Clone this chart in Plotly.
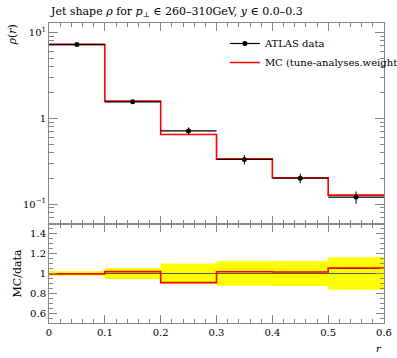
import plotly.graph_objects as go

# ---- data ----
bin_edges = [0.0, 0.1, 0.2, 0.3, 0.4, 0.5, 0.6]
data_x = [0.05, 0.15, 0.25, 0.35, 0.45, 0.55]
data_y = [7.3, 1.56, 0.713, 0.331, 0.200, 0.1205]
data_relerr = [0.022, 0.055, 0.10, 0.123, 0.127, 0.163]
mc_y = [7.26, 1.59, 0.647, 0.337, 0.203, 0.127]

x_ticks = [0, 0.1, 0.2, 0.3, 0.4, 0.5, 0.6]
x_ticklabels = ["0", "0.1", "0.2", "0.3", "0.4", "0.5", "0.6"]
ratio_ticks = [0.6, 0.8, 1.0, 1.2, 1.4]
ratio_ticklabels = ["0.6", "0.8", "1", "1.2", "1.4"]
logy_ticks = [0.1, 1, 10]
logy_ticklabels = ["10<sup>−1</sup>", "1", "10<sup>1</sup>"]

FONT = "DejaVu Serif, Liberation Serif, serif"
AX = "#888888"

def step(vals):
    return list(vals) + [vals[-1]]

data_err = [v * e for v, e in zip(data_y, data_relerr)]
ratio = [m / d for m, d in zip(mc_y, data_y)]
band_up = [1 + e for e in data_relerr]
band_lo = [1 - e for e in data_relerr]

fig = go.Figure()

fig.add_trace(go.Scatter(x=bin_edges, y=step(mc_y), mode="lines", line_shape="hv",
                         line=dict(color="red", width=1.6), showlegend=False,
                         xaxis="x", yaxis="y"))
fig.add_trace(go.Scatter(x=data_x, y=data_y, mode="markers",
                         marker=dict(color="black", size=5),
                         error_y=dict(type="data", array=data_err, color="black", thickness=1, width=0),
                         error_x=dict(type="constant", value=0.05, color="black", thickness=1.2, width=0),
                         showlegend=False, xaxis="x", yaxis="y"))
fig.add_trace(go.Scatter(x=[None], y=[None], mode="lines+markers", name="ATLAS data",
                         line=dict(color="black", width=1.2), marker=dict(color="black", size=5),
                         xaxis="x", yaxis="y"))
fig.add_trace(go.Scatter(x=[None], y=[None], mode="lines", name="MC (tune-analyses.weight",
                         line=dict(color="red", width=1.5), xaxis="x", yaxis="y"))

fig.add_trace(go.Scatter(x=bin_edges, y=step(band_lo), mode="lines", line_shape="hv",
                         line=dict(width=0, color="yellow"), showlegend=False,
                         xaxis="x2", yaxis="y2"))
fig.add_trace(go.Scatter(x=bin_edges, y=step(band_up), mode="lines", line_shape="hv",
                         line=dict(width=0, color="yellow"), fill="tonexty",
                         fillcolor="yellow", showlegend=False, xaxis="x2", yaxis="y2"))
fig.add_trace(go.Scatter(x=[bin_edges[0], bin_edges[-1]], y=[1, 1], mode="lines",
                         line=dict(color="#555555", width=1), showlegend=False,
                         xaxis="x2", yaxis="y2"))
fig.add_trace(go.Scatter(x=bin_edges, y=step(ratio), mode="lines", line_shape="hv",
                         line=dict(color="red", width=1.6), showlegend=False,
                         xaxis="x2", yaxis="y2"))

minor_log = [m * 10 ** e for e in range(-2, 2) for m in range(2, 10)]

common_x = dict(range=[0, 0.6], showgrid=False, zeroline=False, showline=True,
                linecolor=AX, linewidth=1, mirror="allticks", ticks="inside",
                ticklen=8, tickcolor=AX, tickvals=x_ticks, automargin=False,
                minor=dict(ticks="inside", ticklen=4, tickcolor=AX, dtick=0.02, tick0=0))

fig.update_layout(
    width=397, height=358,
    margin=dict(l=49, r=13, t=23, b=35, autoexpand=False),
    paper_bgcolor="white", plot_bgcolor="white",
    font=dict(family=FONT, size=10, color="black"),
    xaxis=dict(common_x, domain=[0, 1], anchor="y", showticklabels=False, matches="x2"),
    yaxis=dict(type="log", domain=[0.33, 1], anchor="x", range=[-1.233, 1.113],
               showgrid=False, zeroline=False, showline=True, linecolor=AX, linewidth=1,
               mirror="allticks", ticks="inside", ticklen=9, tickcolor=AX, automargin=False,
               tickvals=logy_ticks, ticktext=logy_ticklabels,
               minor=dict(ticks="inside", ticklen=4.5, tickcolor=AX, tickmode="array",
                          tickvals=minor_log)),
    xaxis2=dict(common_x, domain=[0, 1], anchor="y2", ticktext=x_ticklabels),
    yaxis2=dict(domain=[0, 0.33], anchor="x2", range=[0.5, 1.5], showgrid=False,
                zeroline=False, showline=True, linecolor=AX, linewidth=1, automargin=False,
                mirror="allticks", ticks="inside", ticklen=8, tickcolor=AX,
                tickvals=ratio_ticks, ticktext=ratio_ticklabels,
                minor=dict(ticks="inside", ticklen=4, tickcolor=AX, dtick=0.05, tick0=0.5),
                title=dict(text="MC/data", font=dict(size=11), standoff=6)),
    legend=dict(x=0.525, y=0.98, xanchor="left", yanchor="top", bgcolor="rgba(0,0,0,0)",
                font=dict(size=10), tracegroupgap=0, itemwidth=30, traceorder="normal"),
    showlegend=True,
)

fig.add_annotation(text="Jet shape <i>ρ</i> for <i>p</i><sub>⊥</sub> ∈ 260–310GeV, <i>y</i> ∈ 0.0–0.3",
                   xref="paper", yref="paper", x=0, y=1, xanchor="left", yanchor="bottom",
                   xshift=-1, yshift=2, showarrow=False, font=dict(size=11))
fig.add_annotation(text="<i>ρ</i>(<i>r</i>)", xref="paper", yref="paper", x=0, y=1,
                   xshift=-37, xanchor="center", yanchor="top", textangle=-90,
                   showarrow=False, font=dict(size=11))
fig.add_annotation(text="<i>r</i>", xref="paper", yref="paper", x=1, y=0,
                   xanchor="right", yanchor="top", yshift=-18, showarrow=False,
                   font=dict(size=10))

fig.write_html("out.html", config={"displayModeBar": False},
               post_script="document.body.style.margin='0px';document.body.style.overflow='hidden';")
